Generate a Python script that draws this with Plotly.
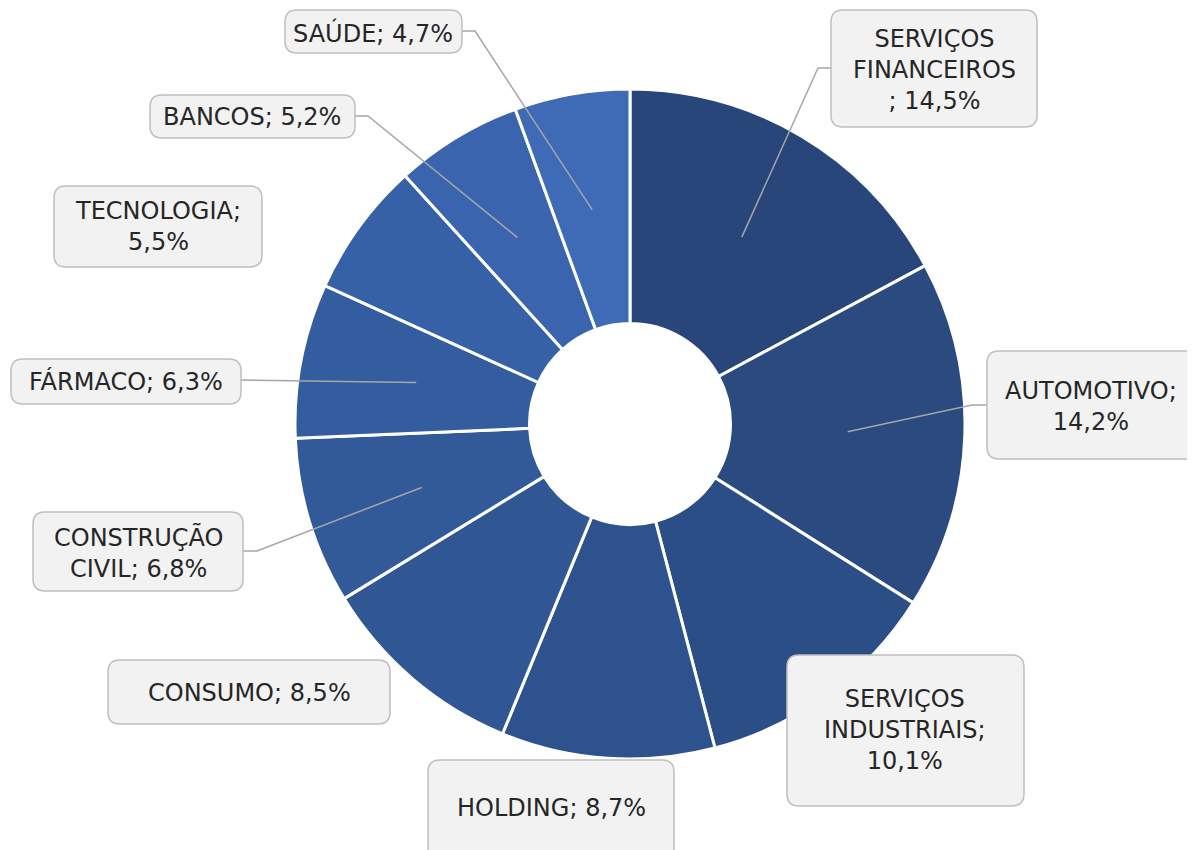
import math
import plotly.graph_objects as go

W, H = 1195, 850
OFF = 8  # page body margin that shifts the figure in the browser

# data (shares in %)
sectors = ["SERVIÇOS FINANCEIROS", "AUTOMOTIVO", "SERVIÇOS INDUSTRIAIS", "HOLDING",
           "CONSUMO", "CONSTRUÇÃO CIVIL", "FÁRMACO", "TECNOLOGIA", "BANCOS", "SAÚDE"]
shares = [14.5, 14.2, 10.1, 8.7, 8.5, 6.8, 6.3, 5.5, 5.2, 4.7]
label_text = ["SERVIÇOS<br>FINANCEIROS<br>; 14,5%", "AUTOMOTIVO;<br>14,2%",
              "SERVIÇOS<br>INDUSTRIAIS;<br>10,1%", "HOLDING; 8,7%", "CONSUMO; 8,5%",
              "CONSTRUÇÃO<br>CIVIL; 6,8%", "FÁRMACO; 6,3%", "TECNOLOGIA;<br>5,5%",
              "BANCOS; 5,2%", "SAÚDE; 4,7%"]

colors = ["#284679", "#2A4A80", "#2C4E87", "#2E528D", "#305693",
          "#325A99", "#345D9F", "#3761A6", "#3A65AE", "#3E6AB6"]

# pie geometry (pixels, as seen on screen)
CX, CY, R, HOLE = 630, 424, 335, 0.3

# label boxes in pixels: x0, x1, y0, y1 (top-down)
boxes = [(831, 1037, 10, 127), (987, 1205, 351, 459), (787, 1024, 655, 806),
         (428, 674, 760, 880), (108, 390, 660, 724), (33, 243, 512, 591),
         (11, 241, 359, 404), (54, 262, 186, 267), (150, 355, 95, 138),
         (285, 462, 10, 53)]
text_x = [934, 1091, 905, 551, 249, 138, 126, 158, 252, 373]
text_y = [70, 406, 730, 808, 693, 552, 382, 227, 117, 33]
# leader lines: list of (elbow, end) points in pixels, None = no line
leaders = [[(818, 68), (831, 68)], [(972, 405), (987, 405)], None, None, None,
           [(257, 551), (243, 551)], [(241, 380)], None,
           [(368, 116), (355, 116)], [(475, 31), (462, 31)]]


def px(x):
    return (x - OFF) / W


def py(y):
    return 1 - (y - OFF) / H


def rounded(x0, x1, y0, y1, r=12):
    rx, ry = r / W, r / H
    a, b, c, d = px(x0), px(x1), py(y0), py(y1)
    return (f"M {a+rx},{c} L {b-rx},{c} Q {b},{c} {b},{c-ry} "
            f"L {b},{d+ry} Q {b},{d} {b-rx},{d} L {a+rx},{d} Q {a},{d} {a},{d+ry} "
            f"L {a},{c-ry} Q {a},{c} {a+rx},{c} Z")


fig = go.Figure()
fig.add_trace(go.Pie(
    labels=sectors, values=shares, hole=HOLE, sort=False,
    direction="clockwise", rotation=0, textinfo="none",
    marker=dict(colors=colors, line=dict(color="white", width=3)),
    domain=dict(x=[px(CX - R), px(CX + R)], y=[py(CY + R), py(CY - R)]),
    showlegend=False,
))

shapes = []
annotations = []
total = sum(shares)
cum = 0
for i, v in enumerate(shares):
    mid = (cum + v / 2) / total * 2 * math.pi
    cum += v
    if leaders[i]:
        rr = R * (1 + HOLE) / 2
        pts = [(CX + rr * math.sin(mid), CY - rr * math.cos(mid))] + leaders[i]
        path = "M " + " L ".join(f"{px(x)},{py(y)}" for x, y in pts)
        shapes.append(dict(type="path", xref="paper", yref="paper", path=path,
                           line=dict(color="#A6A6A6", width=1.5)))
    x0, x1, y0, y1 = boxes[i]
    shapes.append(dict(type="path", xref="paper", yref="paper",
                       path=rounded(x0, x1, y0, y1), fillcolor="#F2F2F2",
                       line=dict(color="#BFBFBF", width=1.5)))
    annotations.append(dict(x=px(text_x[i]), y=py(text_y[i]), xref="paper", yref="paper",
                            text=label_text[i], showarrow=False, xanchor="center",
                            yanchor="middle", align="center",
                            font=dict(family="DejaVu Sans", size=24, color="#262626")))

fig.update_layout(
    width=W, height=H, margin=dict(l=0, r=0, t=0, b=0),
    paper_bgcolor="white", plot_bgcolor="white",
    shapes=shapes, annotations=annotations,
)
fig.write_html("out.html")
